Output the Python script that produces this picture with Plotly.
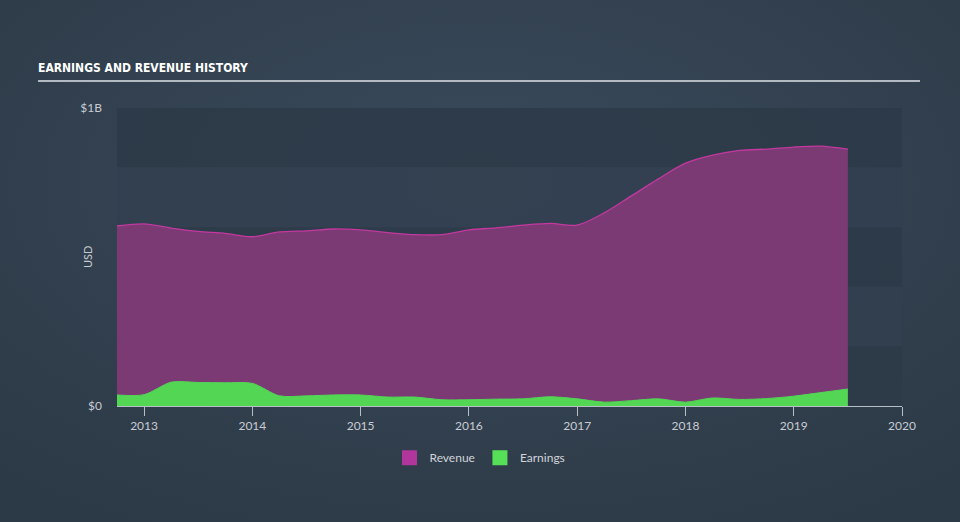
import plotly.graph_objects as go
import urllib.parse

quarters = [2012.75, 2013.0, 2013.25, 2013.5, 2013.75, 2014.0, 2014.25, 2014.5, 2014.75,
            2015.0, 2015.25, 2015.5, 2015.75, 2016.0, 2016.25, 2016.5, 2016.75, 2017.0,
            2017.25, 2017.5, 2017.75, 2018.0, 2018.25, 2018.5, 2018.75, 2019.0, 2019.25, 2019.5]
revenue = [0.604, 0.611, 0.597, 0.586, 0.579, 0.568, 0.584, 0.588, 0.594,
           0.591, 0.582, 0.575, 0.575, 0.591, 0.598, 0.607, 0.613, 0.607,
           0.648, 0.705, 0.762, 0.815, 0.842, 0.858, 0.862, 0.869, 0.872, 0.862]
earnings = [0.037, 0.038, 0.080, 0.079, 0.078, 0.076, 0.034, 0.034, 0.037,
            0.037, 0.030, 0.030, 0.021, 0.021, 0.023, 0.024, 0.031, 0.024,
            0.013, 0.018, 0.024, 0.013, 0.027, 0.022, 0.025, 0.033, 0.045, 0.057]
year_ticks = [2013, 2014, 2015, 2016, 2017, 2018, 2019, 2020]
y_ticks = [0, 1e9]
y_labels = ["$0", "$1B"]

rev_usd = [v * 1e9 for v in revenue]
earn_usd = [v * 1e9 for v in earnings]

fig = go.Figure()
fig.add_trace(go.Scatter(x=quarters, y=rev_usd, mode="lines", fill="tozeroy",
                         line=dict(color="#c2399f", width=1.3, shape="spline", smoothing=0.8),
                         fillcolor="#7b3a74", showlegend=False, hoverinfo="skip"))
fig.add_trace(go.Scatter(x=quarters, y=earn_usd, mode="lines", fill="tozeroy",
                         line=dict(color="#52d654", width=1, shape="spline", smoothing=0.8),
                         fillcolor="#52d654", showlegend=False, hoverinfo="skip"))
fig.add_trace(go.Scatter(x=[None], y=[None], mode="markers", name="Revenue",
                         marker=dict(symbol="square", size=15, color="#b0369b")))
fig.add_trace(go.Scatter(x=[None], y=[None], mode="markers", name="Earnings",
                         marker=dict(symbol="square", size=15, color="#56e057")))

svg = ("<svg xmlns='http://www.w3.org/2000/svg' width='960' height='522'>"
       "<defs><radialGradient id='g' cx='50%' cy='35%' r='75%'>"
       "<stop offset='0%' stop-color='#3a4a5b'/><stop offset='100%' stop-color='#2c3946'/>"
       "</radialGradient></defs><rect width='960' height='522' fill='url(#g)'/></svg>")
src = "data:image/svg+xml;charset=utf-8," + urllib.parse.quote(svg)

shapes = []
band_colors = ["#2d3a48", "#324050", "#2d3a48", "#324050", "#2d3a48"]
for i, c in enumerate(band_colors):
    shapes.append(dict(type="rect", xref="paper", yref="y", x0=0, x1=1,
                       y0=(4 - i) * 0.2e9, y1=(5 - i) * 0.2e9,
                       fillcolor=c, opacity=0.85, line=dict(width=0), layer="below"))
shapes.append(dict(type="line", xref="paper", yref="paper", x0=-0.1006, x1=1.0229,
                   y0=1.0906, y1=1.0906, line=dict(color="#b4bac2", width=2)))

fig.update_layout(
    width=960, height=522,
    margin=dict(l=117, r=58, t=108, b=116),
    paper_bgcolor="#334150", plot_bgcolor="rgba(0,0,0,0)",
    images=[dict(source=src, xref="paper", yref="paper", x=-0.149, y=1.3624,
                 sizex=1.223, sizey=1.7517, sizing="stretch", layer="below",
                 xanchor="left", yanchor="top")],
    shapes=shapes,
    title=dict(text="<b>EARNINGS AND REVENUE HISTORY</b>", x=38 / 960, xanchor="left",
               y=1 - 68 / 522, yanchor="middle",
               font=dict(family="Liberation Sans Narrow, DejaVu Sans Condensed", size=12, color="#ffffff")),
    annotations=[dict(text="USD", xref="paper", yref="paper", x=(87 - 117) / 785, y=0.5,
                      xanchor="center", yanchor="middle", textangle=-90, showarrow=False,
                      font=dict(family="Lato, Noto Sans", size=11, color="#c8ccd2"))],
    xaxis=dict(range=[2012.75, 2020], tickvals=year_ticks, ticktext=[str(t) for t in year_ticks],
               showgrid=False, zeroline=False, showline=True, linecolor="#b8bec6", linewidth=1,
               ticks="outside", ticklen=9, tickcolor="#b8bec6",
               tickfont=dict(family="Lato, Noto Sans", size=12, color="#c8ccd2")),
    yaxis=dict(range=[0, 1e9], tickvals=y_ticks, ticktext=y_labels, showgrid=False,
               zeroline=False, showline=False, ticks="", ticklabelstandoff=14,
               tickfont=dict(family="Lato, Noto Sans", size=12, color="#c8ccd2")),
    legend=dict(orientation="h", x=(480 - 117) / 785, xanchor="center", y=-0.125, yanchor="top",
                font=dict(family="Lato, Noto Sans", size=12, color="#d0d4d8"),
                bgcolor="rgba(0,0,0,0)", itemwidth=30),
)

fig.write_html("out.html")
